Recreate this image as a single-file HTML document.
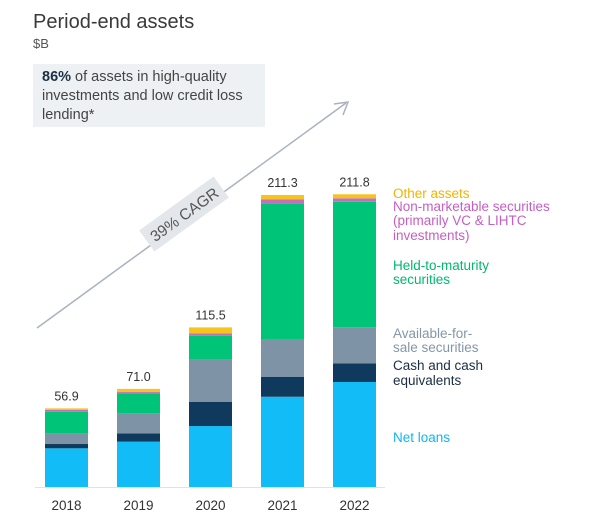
<!DOCTYPE html>
<html><head><meta charset="utf-8"><style>
body{margin:0;background:#fff;width:600px;height:523px;overflow:hidden;font-family:"Liberation Sans",sans-serif}
text{font-family:"Liberation Sans",sans-serif}
</style></head><body>
<svg id="chart" width="600" height="523" viewBox="0 0 600 523" xmlns="http://www.w3.org/2000/svg">
<text x="33" y="28" font-size="20" fill="#3a3a3a">Period-end assets</text>
<text x="33" y="48" font-size="13" fill="#555">$B</text>
<rect x="33" y="64" width="232" height="63" fill="#eef1f4"/>
<text font-size="14.5" fill="#444">
<tspan x="42" y="81"><tspan font-weight="bold" fill="#1b2f45">86%</tspan> of assets in high-quality</tspan>
<tspan x="42" y="100">investments and low credit loss</tspan>
<tspan x="42" y="119">lending*</tspan></text>
<g>
<line x1="37" y1="328" x2="346" y2="103" stroke="#a9b3bd" stroke-width="1.5"/>
<polyline points="334,104 348,102 343,115" fill="none" stroke="#a9b3bd" stroke-width="1.5"/>
<g transform="translate(184,214) rotate(-36)">
<rect x="-46" y="-13" width="92" height="26" fill="#e3e7eb"/>
<text x="0" y="6" text-anchor="middle" font-size="15.5" fill="#555">39% CAGR</text>
</g></g>
<g id="bars"></g>
<line x1="35" y1="487.5" x2="385" y2="487.5" stroke="#e2e2e2"/>
<g font-size="13.5">
<text x="393" y="198" fill="#f0b400">Other assets</text>
<text fill="#c65ec4"><tspan x="393" y="211">Non-marketable securities</tspan><tspan x="393" y="225">(primarily VC &amp; LIHTC</tspan><tspan x="393" y="240">investments)</tspan></text>
<text fill="#00b86e"><tspan x="393" y="270">Held-to-maturity</tspan><tspan x="393" y="284">securities</tspan></text>
<text fill="#8496a8"><tspan x="393" y="338">Available-for-</tspan><tspan x="393" y="352">sale securities</tspan></text>
<text fill="#1a2e45"><tspan x="393" y="370">Cash and cash</tspan><tspan x="393" y="385">equivalents</tspan></text>
<text x="393" y="442" fill="#10b6f0">Net loans</text>
</g>
</svg>
<script>
const years=["2018","2019","2020","2021","2022"];
const totals=["56.9","71.0","115.5","211.3","211.8"];
const netLoans=[28.0,32.8,44.1,65.3,76.0];
const cash=[3.1,6.0,17.6,14.5,13.5];
const afs=[7.7,14.5,30.9,27.3,26.1];
const htm=[15.7,14.0,16.9,98.2,90.8];
const nonMkt=[1.4,1.4,1.7,2.9,2.5];
const other=[1.0,2.3,4.3,3.1,2.9];
const series=[["net-loans",netLoans,"#12bcf6"],["cash",cash,"#0f3a5e"],["afs",afs,"#7f93a7"],["htm",htm,"#00c477"],["non-marketable",nonMkt,"#c070bd"],["other",other,"#f7c41c"]];
const base=487,scale=1.382,x0=45,step=72,bw=43;
const y=v=>base-v*scale;
const xs=i=>x0+i*step;
const ns="http://www.w3.org/2000/svg",g=document.getElementById('bars');
years.forEach((yr,i)=>{
  let acc=0;
  series.forEach(([nm,arr,col])=>{
    const r=document.createElementNS(ns,'rect');
    
    
    r.setAttribute('x',xs(i));r.setAttribute('width',bw);
    r.setAttribute('y',y(acc+arr[i]));r.setAttribute('height',arr[i]*scale);
    r.setAttribute('fill',col);g.appendChild(r);acc+=arr[i];
  });
  const t=document.createElementNS(ns,'text');
  
  
  t.setAttribute('x',xs(i)+bw/2);t.setAttribute('y',y(acc)-8);
  t.setAttribute('text-anchor','middle');t.setAttribute('font-size','12.5');t.setAttribute('fill','#333');
  t.textContent=totals[i];g.appendChild(t);
  const l=document.createElementNS(ns,'text');
  
  
  l.setAttribute('x',xs(i)+bw/2);l.setAttribute('y',510);
  l.setAttribute('text-anchor','middle');l.setAttribute('font-size','13.5');l.setAttribute('fill','#333');
  l.textContent=yr;g.appendChild(l);
});
</script>
</body></html>
